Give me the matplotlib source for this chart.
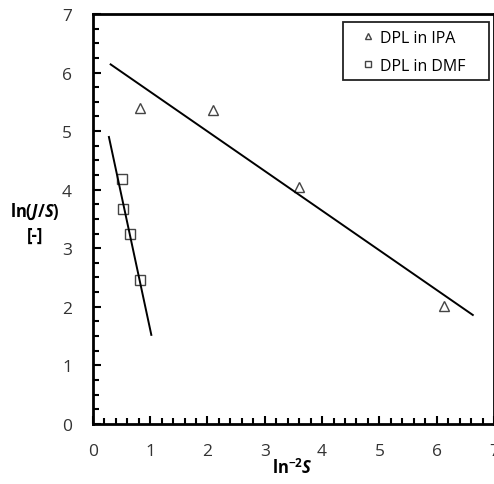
import numpy as np
import matplotlib
matplotlib.use("Agg")
import matplotlib.pyplot as plt
from matplotlib.ticker import MultipleLocator
from matplotlib.patches import Rectangle

# --- datos ---
ipa_x = [0.82, 2.09, 3.59, 6.12]
ipa_y = [5.39, 5.36, 4.04, 2.02]
ipa_fit_x = [0.31, 6.63]
ipa_fit_y = [6.14, 1.86]

dmf_x = [0.50, 0.53, 0.65, 0.82]
dmf_y = [4.19, 3.67, 3.24, 2.46]
dmf_fit_x = [0.28, 1.02]
dmf_fit_y = [4.90, 1.52]

x_ticks = [0, 1, 2, 3, 4, 5, 6, 7]
y_ticks = [0, 1, 2, 3, 4, 5, 6, 7]

plt.rcParams['font.family'] = ['Open Sans', 'DejaVu Sans']
plt.rcParams['mathtext.fontset'] = 'custom'
plt.rcParams['mathtext.rm'] = 'Open Sans'
plt.rcParams['mathtext.bf'] = 'Open Sans:bold'
plt.rcParams['mathtext.it'] = 'Open Sans:italic'
plt.rcParams['mathtext.bfit'] = 'Open Sans:italic:bold'

fig = plt.figure(figsize=(4.94, 4.85), dpi=100)
ax = fig.add_axes([0.188, 0.124, 0.812, 0.845])

gris = '#444444'
ax.plot(ipa_x, ipa_y, linestyle='none', marker='^', markersize=7,
        markerfacecolor='white', markeredgecolor=gris, markeredgewidth=1.0,
        label='DPL in IPA')
ax.plot(dmf_x, dmf_y, linestyle='none', marker='s', markersize=7,
        markerfacecolor='white', markeredgecolor=gris, markeredgewidth=1.0,
        label='DPL in DMF')
ax.plot(ipa_fit_x, ipa_fit_y, color='black', linewidth=1.4)
ax.plot(dmf_fit_x, dmf_fit_y, color='black', linewidth=1.4)

ax.set_xlim(0, 7)
ax.set_ylim(0, 7)
ax.set_xticks(x_ticks)
ax.set_yticks(y_ticks)
ax.xaxis.set_minor_locator(MultipleLocator(0.2))
ax.yaxis.set_minor_locator(MultipleLocator(0.25))
ax.tick_params(which='both', direction='in', color='black', width=1.5,
               labelsize=12.5, labelcolor='#333333')
ax.tick_params(which='major', length=6)
ax.tick_params(which='minor', length=4)
ax.tick_params(axis='x', pad=14)
ax.tick_params(axis='y', pad=15)
for s in ax.spines.values():
    s.set_linewidth(2)

# leyenda sin marco + recuadro propio (más ancho, como en el original)
leg = ax.legend(loc='upper left', bbox_to_anchor=(362 / 494, 1 - 31 / 485),
                bbox_transform=fig.transFigure, fontsize=11.5, frameon=False,
                handlelength=0.8, handletextpad=0.35, markerscale=0.7,
                borderpad=0, borderaxespad=0, labelspacing=0.75)
fig.patches.append(Rectangle((343 / 494, 1 - 81 / 485), 146 / 494, 58 / 485,
                             transform=fig.transFigure, fill=False,
                             edgecolor='#222222', linewidth=1.3))

fig.text(35 / 494, 1 - 212 / 485, r'$\mathbf{ln(}\mathbfit{J}\mathbf{/}\mathbfit{S}\mathbf{)}$',
         ha='center', va='center', fontsize=12)
fig.text(35 / 494, 1 - 236 / 485, '[-]', ha='center', va='center',
         fontsize=12, fontweight='bold')
fig.text(292 / 494, 1 - 468 / 485, r'$\mathbf{ln}^{\mathbf{-2}}\mathbfit{S}$',
         ha='center', va='center', fontsize=12)

fig.savefig('out.png', dpi=100)
